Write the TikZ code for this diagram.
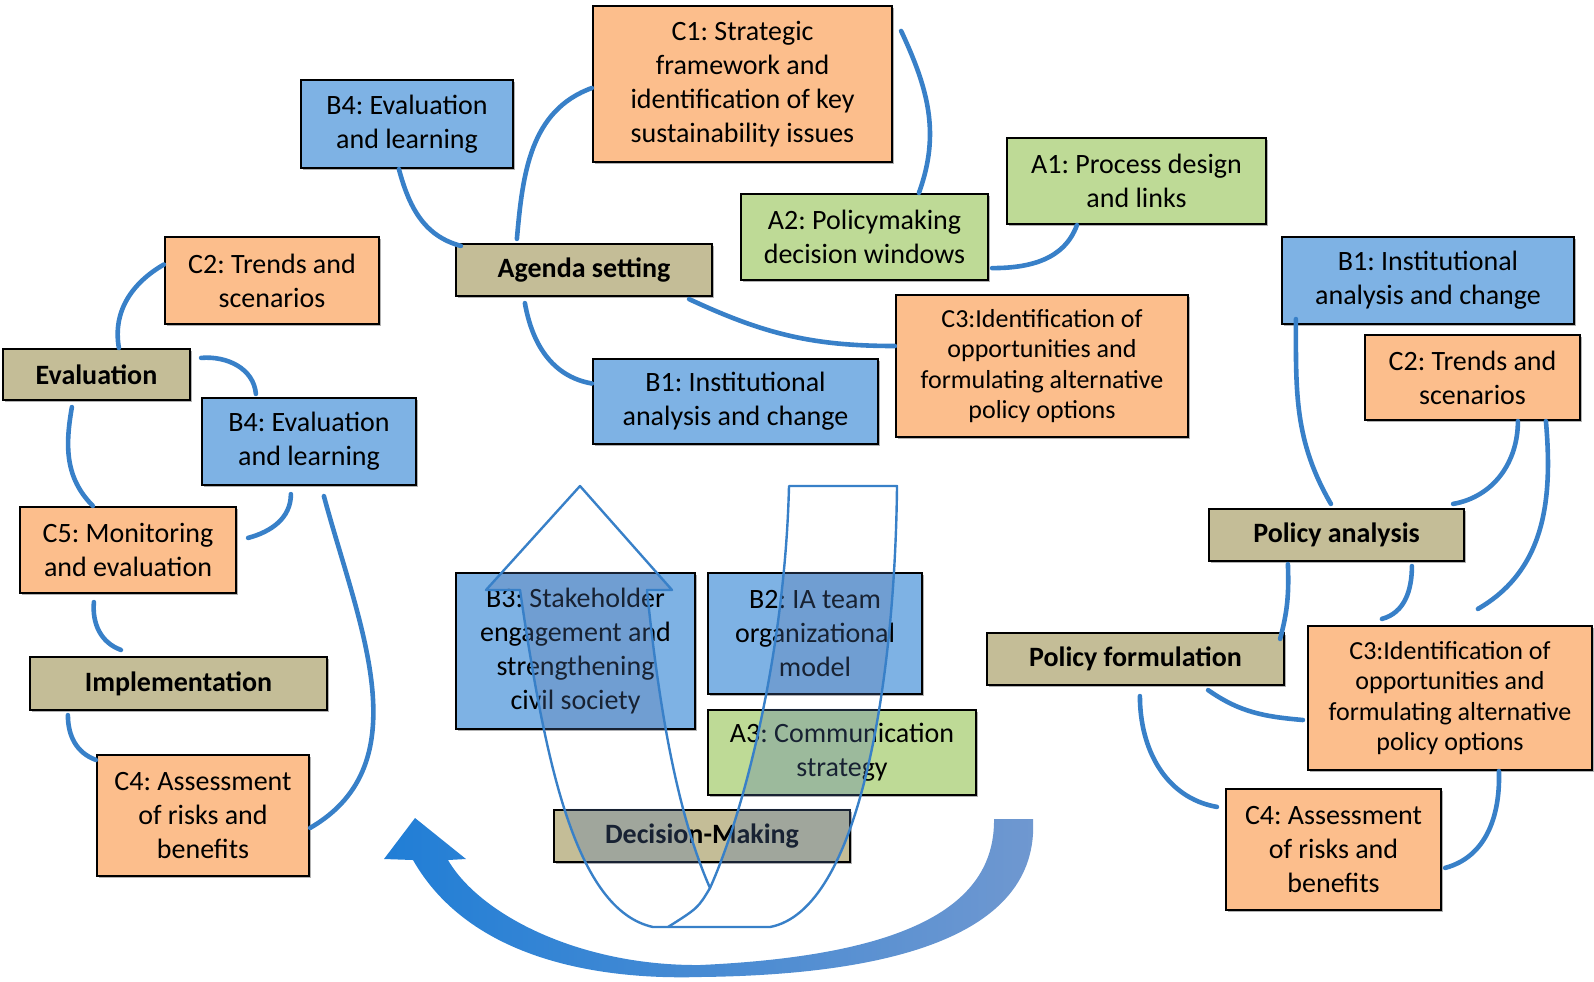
\documentclass[tikz,border=0pt]{standalone}
\usepackage{fontspec}
\setmainfont{Carlito}
\usepackage{tikz}
\usetikzlibrary{shadows}
\usepackage{xcolor}
\frenchspacing

\definecolor{orangefill}{RGB}{252,190,140}
\definecolor{bluefill}{RGB}{126,178,228}
\definecolor{greenfill}{RGB}{190,218,150}
\definecolor{tanfill}{RGB}{196,189,151}
\definecolor{linkblue}{RGB}{56,128,200}
\definecolor{arrowleft}{RGB}{32,126,214}
\definecolor{arrowright}{RGB}{112,152,208}
\definecolor{uturnveil}{RGB}{80,115,170}

\tikzset{
  box/.style={draw=black, line width=1.1pt, align=center, inner sep=0pt, text=black,
    font=\fontsize{14}{17}\selectfont,
    drop shadow={shadow xshift=.8pt, shadow yshift=-.8pt, fill=black!60, opacity=.5}},
  cbox/.style={box, fill=orangefill},
  bbox/.style={box, fill=bluefill},
  abox/.style={box, fill=greenfill},
  stage/.style={box, fill=tanfill, font=\fontsize{14}{16}\selectfont\bfseries},
  c3text/.style={font=\fontsize{13}{15.3}\selectfont},
  link/.style={draw=linkblue, line width=2.3pt, line cap=round},
  uline/.style={draw=linkblue, line width=1.2pt, line join=round},
}

% outline of the u-turn arrow in the middle
\def\uturnpath{(580,-486) -- (672,-590) -- (647,-590)
  .. controls (660,-720) and (680,-820) .. (710,-888)
  .. controls (745,-810) and (785,-650) .. (789,-486) -- (897,-486)
  .. controls (895,-680) and (860,-910) .. (770,-927) -- (653,-927)
  .. controls (575,-910) and (545,-760) .. (520,-590) -- (486,-590) -- cycle}

\begin{document}
\begin{tikzpicture}[x=.5pt,y=.5pt]
\useasboundingbox (0,0) rectangle (1594,-981);

% big curved arrow
\shade[left color=arrowleft, right color=arrowright] (413,-860)
  .. controls (470,-960) and (600,-980) .. (700,-977)
  .. controls (880,-975) and (1040,-940) .. (1033,-819) -- (994,-819)
  .. controls (995,-900) and (920,-955) .. (700,-965)
  .. controls (580,-966) and (480,-915) .. (448,-860)
  -- (466,-859) -- (415,-818) -- (384,-859) -- cycle;

% agenda setting
\node[cbox, minimum width=149.5pt, minimum height=78pt] (c1) at (742.5,-84) {C1: Strategic\\framework and\\identification of key\\sustainability issues};
\node[bbox, minimum width=106pt, minimum height=44pt] (b4top) at (407,-124) {B4: Evaluation\\and learning};
\node[abox, minimum width=129.5pt, minimum height=43pt] (a1) at (1136.5,-181) {A1: Process design\\and links};
\node[abox, minimum width=123.5pt, minimum height=43pt] (a2) at (864.5,-237) {A2: Policymaking\\decision windows};
\node[stage, minimum width=128pt, minimum height=26pt] (agenda) at (584,-270) {Agenda setting};
\node[cbox, c3text, minimum width=146pt, minimum height=71pt] (c3top) at (1042,-366) {C3:Identification of\\opportunities and\\formulating alternative\\policy options};
\node[bbox, minimum width=142.5pt, minimum height=42.5pt] (b1top) at (735.5,-401.5) {B1: Institutional\\analysis and change};

% evaluation and implementation
\node[cbox, minimum width=107pt, minimum height=43.5pt] (c2left) at (272,-280.5) {C2: Trends and\\scenarios};
\node[stage, minimum width=93.5pt, minimum height=25.5pt] (evaluation) at (96.5,-374.5) {Evaluation};
\node[bbox, minimum width=107pt, minimum height=43.5pt] (b4left) at (309,-441.5) {B4: Evaluation\\and learning};
\node[cbox, minimum width=108pt, minimum height=43pt] (c5) at (128,-550) {C5: Monitoring\\and evaluation};
\node[stage, minimum width=148.5pt, minimum height=26.5pt] (implementation) at (178.5,-683.5) {Implementation};
\node[cbox, minimum width=106pt, minimum height=60.5pt] (c4left) at (203,-815.5) {C4: Assessment\\of risks and\\benefits};

% decision-making
\node[bbox, minimum width=119.5pt, minimum height=78pt] (b3) at (575.5,-651) {B3: Stakeholder\\engagement and\\strengthening\\civil society};
\node[bbox, minimum width=107pt, minimum height=60.5pt] (b2) at (815,-633.5) {B2: IA team\\organizational\\model};
\node[abox, minimum width=134pt, minimum height=42.5pt] (a3) at (842,-752.5) {A3: Communication\\strategy};
\node[stage, minimum width=148pt, minimum height=26pt] (decision) at (702,-836) {Decision-Making};

% policy analysis and formulation
\node[bbox, minimum width=146pt, minimum height=43.5pt] (b1right) at (1428,-280.5) {B1: Institutional\\analysis and change};
\node[cbox, minimum width=107.5pt, minimum height=42.5pt] (c2right) at (1472.5,-377.5) {C2: Trends and\\scenarios};
\node[stage, minimum width=127.5pt, minimum height=26pt] (policyanalysis) at (1336.5,-535) {Policy analysis};
\node[stage, minimum width=148.5pt, minimum height=26pt] (policyformulation) at (1135.5,-659) {Policy formulation};
\node[cbox, c3text, minimum width=142pt, minimum height=72pt] (c3right) at (1450,-698) {C3:Identification of\\opportunities and\\formulating alternative\\policy options};
\node[cbox, minimum width=107.5pt, minimum height=60.5pt] (c4right) at (1333.5,-849.5) {C4: Assessment\\of risks and\\benefits};

% links
\draw[link] ([xshift=49.5pt]b4top.south west) to[out=-75,in=165] ([xshift=3pt,yshift=-1.5pt]agenda.north west);
\draw[link] ([yshift=-2pt]c1.west) to[out=200,in=85] ([xshift=31pt,yshift=2pt]agenda.north west);
\draw[link] ([xshift=4pt,yshift=-13pt]c1.north east) to[out=-65,in=70] ([xshift=89.5pt]a2.north west);
\draw[link] ([xshift=1.5pt,yshift=6.5pt]a2.south east) to[out=0,in=-110] ([xshift=35.5pt]a1.south west);
\draw[link] ([xshift=-12pt,yshift=-1pt]agenda.south east) to[out=-25,in=180] ([yshift=10pt]c3top.west);
\draw[link] ([xshift=35pt,yshift=-3pt]agenda.south west) to[out=-80,in=170] ([yshift=9pt]b1top.west);

\draw[link] ([yshift=8pt]c2left.west) to[out=210,in=100] ([xshift=58.5pt]evaluation.north west);
\draw[link] ([xshift=5pt,yshift=-5pt]evaluation.north east) to[out=5,in=95] ([xshift=27.5pt,yshift=1.5pt]b4left.north west);
\draw[link] ([xshift=35pt,yshift=-3pt]evaluation.south west) to[out=-100,in=135] ([xshift=37pt]c5.north west);
\draw[link] ([xshift=45pt,yshift=-4pt]b4left.south west) to[out=-90,in=15] ([xshift=5.5pt,yshift=-16pt]c5.north east);
\draw[link] ([xshift=61.5pt,yshift=-5pt]b4left.south west) to[out=-75,in=30] ([yshift=-37pt]c4left.north east);
\draw[link] ([xshift=37.5pt,yshift=-4pt]c5.south west) to[out=-95,in=160] ([xshift=46pt,yshift=3pt]implementation.north west);
\draw[link] ([xshift=19.5pt,yshift=-2pt]implementation.south west) to[out=-90,in=160] ([yshift=-3pt]c4left.north west);

\draw[link] ([xshift=7.5pt,yshift=3pt]b1right.south west) to[out=-90,in=120] ([xshift=61.5pt,yshift=2pt]policyanalysis.north west);
\draw[link] ([xshift=77pt]c2right.south west) to[out=-90,in=10] ([xshift=-6pt,yshift=2pt]policyanalysis.north east);
\draw[link] ([xshift=91pt]c2right.south west) to[out=-85,in=30] ([xshift=85.5pt,yshift=8pt]c3right.north west);
\draw[link] ([xshift=102pt,yshift=-2pt]policyanalysis.south west) to[out=-90,in=15] ([xshift=37.5pt,yshift=3pt]c3right.north west);
\draw[link] ([xshift=40pt,yshift=-1pt]policyanalysis.south west) to[out=-88,in=75] ([xshift=-2.5pt,yshift=-3.5pt]policyformulation.north east);
\draw[link] ([xshift=-38.5pt,yshift=-2pt]policyformulation.south east) to[out=-35,in=175] ([xshift=-2pt,yshift=-11pt]c3right.west);
\draw[link] ([xshift=77pt,yshift=-5pt]policyformulation.south west) to[out=-90,in=170] ([xshift=-4pt,yshift=-9.5pt]c4right.north west);
\draw[link] ([xshift=96pt]c3right.south west) to[out=-88,in=15] ([xshift=1.5pt,yshift=-40pt]c4right.north east);

% u-turn arrow over the decision-making boxes
\begin{scope}
\clip \uturnpath;
\fill[uturnveil, opacity=.3] (b3.south west) rectangle (b3.north east)
  (b2.south west) rectangle (b2.north east)
  (a3.south west) rectangle (a3.north east)
  (decision.south west) rectangle (decision.north east);
\end{scope}
\draw[uline] \uturnpath;
\draw[uline] (710,-888) .. controls (698,-908) .. (668,-927);
\end{tikzpicture}
\end{document}
